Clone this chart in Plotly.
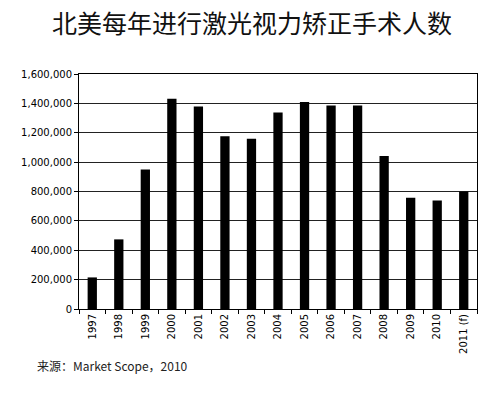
import plotly.graph_objects as go

years = ["1997", "1998", "1999", "2000", "2001", "2002", "2003", "2004",
         "2005", "2006", "2007", "2008", "2009", "2010", "2011 (f)"]
procedures = [215000, 474000, 949000, 1431000, 1378000, 1177000, 1160000, 1338000,
              1409000, 1386000, 1386000, 1042000, 757000, 738000, 800000]
y_ticks = [0, 200000, 400000, 600000, 800000, 1000000, 1200000, 1400000, 1600000]

title_text = "北美每年进行激光视力矫正手术人数"
source_text = "来源：Market Scope，2010"

# page body has an 8px default margin; compensate
OFF = 8
L, T, R, B = 79 - OFF, 74 - OFF, 31 - OFF, 92 - OFF
W, H = 500 - OFF, 393 - OFF
PW, PH = W - L - R, H - T - B

fig = go.Figure(go.Bar(x=years, y=procedures, marker=dict(color="black", line=dict(width=0))))

fig.update_layout(
    width=W, height=H,
    margin=dict(l=L, r=R, t=T, b=B, autoexpand=False),
    paper_bgcolor="white", plot_bgcolor="white",
    bargap=0.65,
    showlegend=False,
    font=dict(family="DejaVu Sans", color="black"),
)
fig.update_yaxes(
    range=[0, 1600000], tickvals=y_ticks, tickformat=",",
    showgrid=True, gridcolor="#222", gridwidth=1,
    showline=True, linecolor="black", linewidth=1, mirror=True,
    ticks="outside", ticklen=4, tickcolor="black",
    tickfont=dict(family="DejaVu Sans", size=10, color="black"),
    zeroline=False, automargin=False,
)
fig.update_xaxes(
    type="category", tickangle=-90, tickson="boundaries",
    ticks="outside", ticklen=4, tickcolor="black",
    showline=True, linecolor="black", linewidth=1, mirror=True,
    showgrid=False, automargin=False,
    tickfont=dict(family="DejaVu Sans", size=10, color="black"),
)
fig.add_annotation(
    text=title_text, xref="paper", yref="paper",
    x=(252 - OFF - L) / PW, y=(H - B - (22 - OFF)) / PH,
    xanchor="center", yanchor="middle", showarrow=False,
    font=dict(family="Noto Sans CJK SC", size=25, color="#111"),
)
fig.add_annotation(
    text=source_text, xref="paper", yref="paper",
    x=(35 - OFF - L) / PW, y=(H - B - (365 - OFF)) / PH,
    xanchor="left", yanchor="middle", showarrow=False,
    font=dict(family="Noto Sans CJK SC", size=12, color="#222"),
)

fig.write_html("out.html")
